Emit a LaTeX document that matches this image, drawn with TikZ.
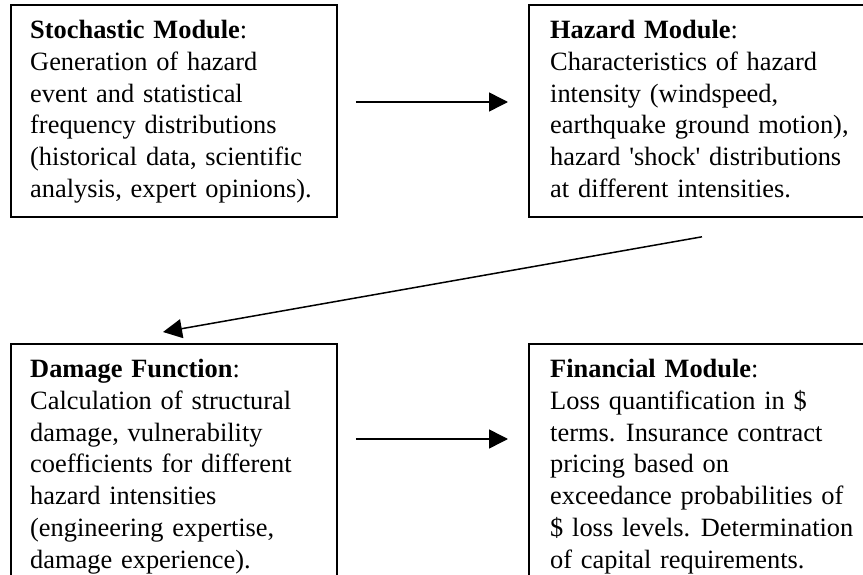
\documentclass[tikz,border=0pt]{standalone}
\usepackage{fontspec}
\setmainfont{Liberation Serif}
\usetikzlibrary{arrows.meta,calc}
\begin{document}
\begin{tikzpicture}[x=1pt,y=-1pt,
  box/.style={draw, line width=1.8pt, inner sep=0pt, anchor=north west},
  txt/.style={anchor=north west, inner sep=0pt, align=left, text width=320pt,
              font=\fontsize{26.4}{31.8}\selectfont},
  flow/.style={-{Triangle[length=19pt,width=19pt]}, line width=1.5pt}]
\useasboundingbox (0,0) rectangle (863,575);
\clip (0,0) rectangle (863,575);
\fill[white] (0,0) rectangle (863,575);
% boxes
\node[box, minimum width=326pt, minimum height=212pt] (tl) at (10,4) {};
\node[box, minimum width=345pt, minimum height=212pt] (tr) at (528,4) {};
\node[box, minimum width=326pt, minimum height=260pt] (bl) at (10,343) {};
\node[box, minimum width=345pt, minimum height=260pt] (br) at (528,343) {};
% texts
\node[txt] (tlt) at (30,20) {\textbf{Stochastic Module}:\\
Generation of hazard\\
event and statistical\\
frequency distributions\\
(historical data, scientific\\
analysis, expert opinions).};
\node[txt] (trt) at (550,20) {\textbf{Hazard Module}:\\
Characteristics of hazard\\
intensity (windspeed,\\
earthquake ground motion),\\
hazard \textquotesingle shock\textquotesingle\ distributions\\
at different intensities.};
\node[txt] (blt) at (30,359) {\textbf{Damage Function}:\\
Calculation of structural\\
damage, vulnerability\\
coefficients for different\\
hazard intensities\\
(engineering expertise,\\
damage experience).};
\node[txt] (brt) at (550,359) {\textbf{Financial Module}:\\
Loss quantification in \$\\
terms.\hspace{0.4em}Insurance contract\\
pricing based on\\
exceedance probabilities of\\
\$ loss levels.\hspace{0.4em}Determination\\
of capital requirements.};
% connectors
\draw[flow] ($(tl.north east)+(18,98)$) -- ($(tr.north west)+(-20,98)$);
\draw[flow] ($(tr.south west)+(174,19)$) -- ($(bl.north west)+(153,-11)$);
\draw[flow] ($(bl.north east)+(18,96)$) -- ($(br.north west)+(-20,96)$);
\end{tikzpicture}
\end{document}
